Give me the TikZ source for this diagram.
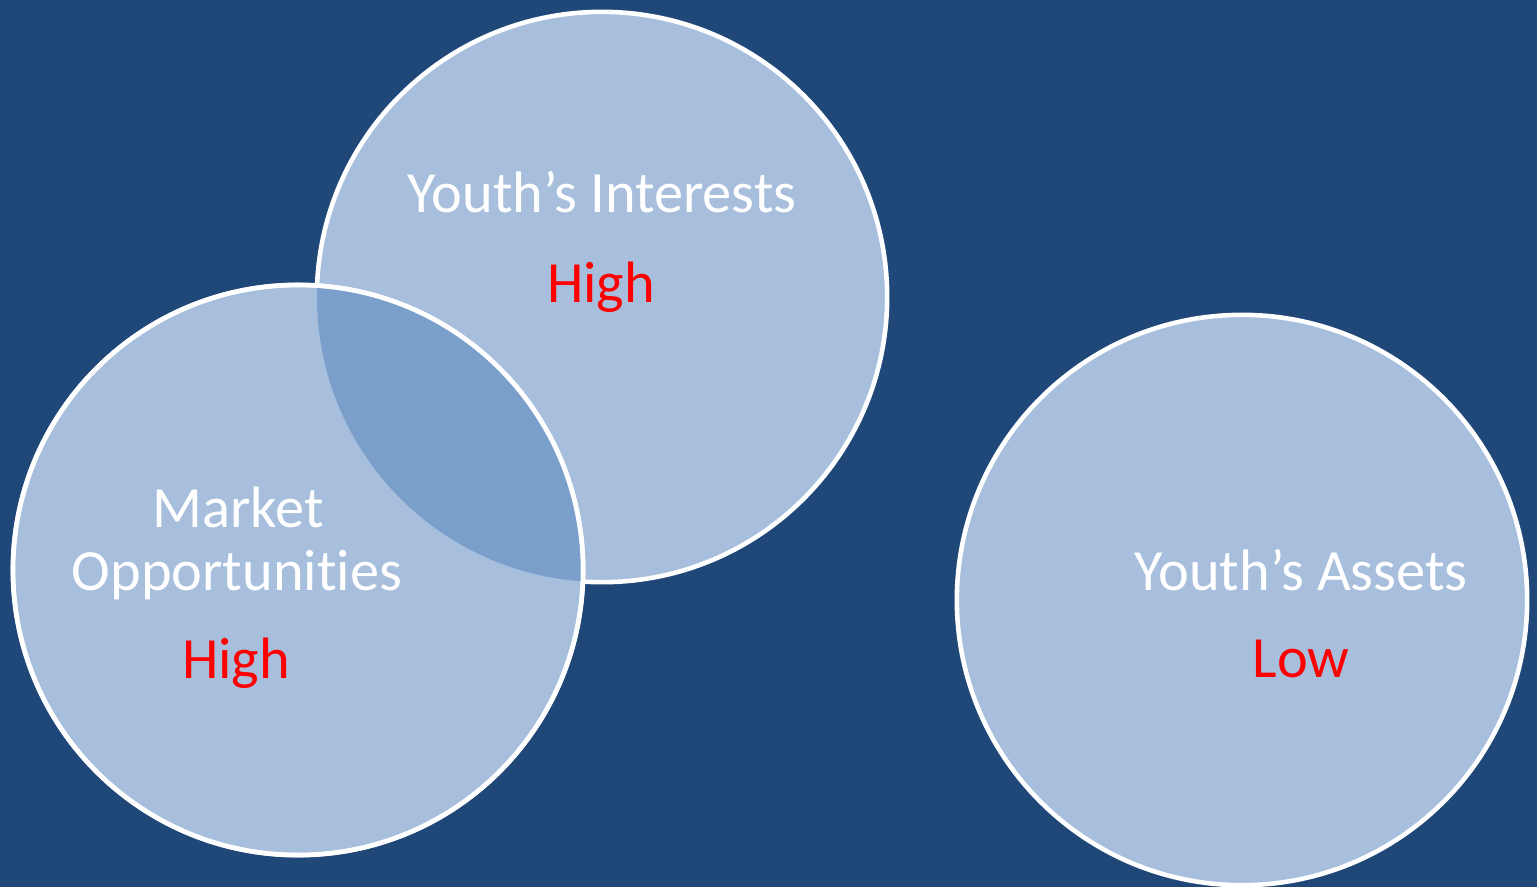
\documentclass[tikz,border=0pt]{standalone}
\usepackage{fontspec}
\setmainfont[Ligatures=NoCommon]{Carlito}
\definecolor{bg}{HTML}{1F4778}
\definecolor{cfill}{HTML}{A7BFDD}
\definecolor{cover}{HTML}{7A9FCB}
\definecolor{hl}{HTML}{FF0000}
\begin{document}
\begin{tikzpicture}[x=0.01cm,y=-0.01cm,
  bubble/.style={circle, fill=cfill, draw=white, line width=1.3pt, minimum size=5.7cm, inner sep=0pt},
  rim/.style={draw=white, line width=1.3pt},
  lbl/.style={text=white, font=\fontsize{16.6}{19}\selectfont, anchor=base, inner sep=0pt},
  val/.style={text=hl, font=\fontsize{16.6}{19}\selectfont, anchor=base, inner sep=0pt}]
\fill[bg] (0,0) rectangle (1537,887);
\useasboundingbox (0,0) rectangle (1537,887);
\node[bubble] (interests) at (602,297) {};
\node[bubble] (market) at (298,570) {};
\node[bubble] (assets) at (1242,600) {};
\begin{scope}
  \clip (interests.center) circle (285);
  \fill[cover] (market.center) circle (285);
\end{scope}
\path[rim] (market.center) circle (285);
\node[lbl] (t1) at (602,212) {Youth’s Interests};
\node[val] (v1) at (601,302) {High};
\node[lbl] (t2a) at (238,527) {Market};
\node[lbl] (t2b) at (237,590) {Opportunities};
\node[val] (v2) at (236,678) {High};
\node[lbl] (t3) at (1301,590) {Youth’s Assets};
\node[val] (v3) at (1301,677) {Low};
\end{tikzpicture}
\end{document}
